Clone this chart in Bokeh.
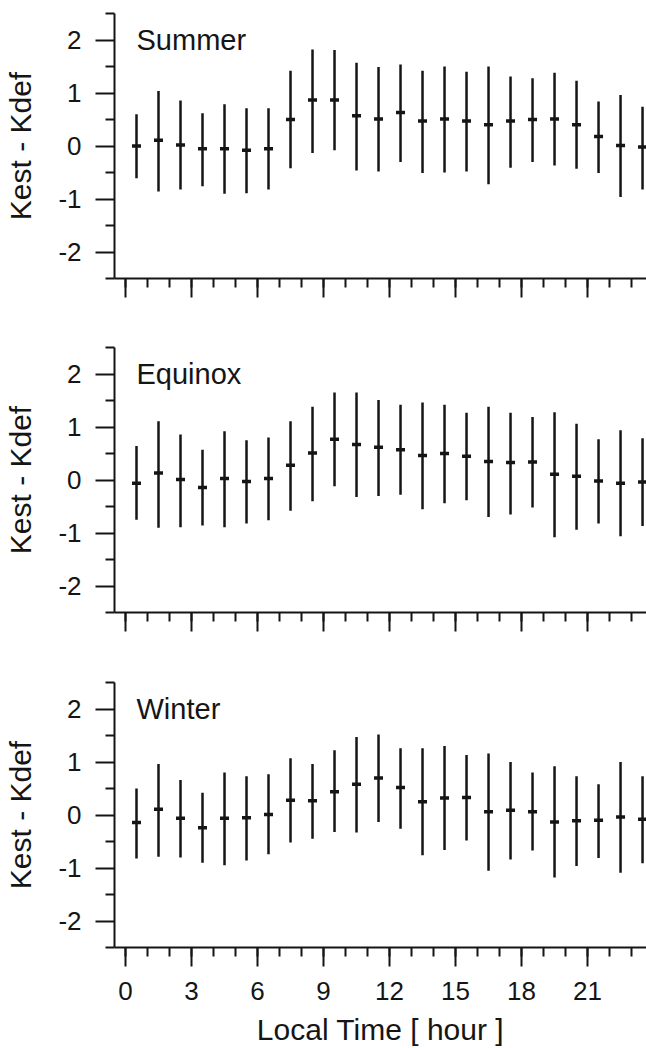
from bokeh.plotting import figure
from bokeh.layouts import column
from bokeh.models import Range1d, FixedTicker, Label, ColumnDataSource
from bokeh.embed import file_html
from bokeh.resources import INLINE

hours = [h + 0.5 for h in range(24)]
x_tick_labels = ["0", "3", "6", "9", "12", "15", "18", "21"]
y_tick_labels = ["-2", "-1", "0", "1", "2"]
seasons = ["Summer", "Equinox", "Winter"]

summer_mean = [0.00, 0.11, 0.02, -0.05, -0.05, -0.08, -0.05, 0.50, 0.87, 0.87, 0.57, 0.51,
               0.63, 0.47, 0.51, 0.47, 0.40, 0.47, 0.50, 0.51, 0.40, 0.18, 0.01, -0.02]
summer_upper = [0.60, 1.04, 0.86, 0.62, 0.79, 0.71, 0.71, 1.42, 1.82, 1.81, 1.57, 1.49,
                1.54, 1.42, 1.50, 1.40, 1.50, 1.31, 1.28, 1.38, 1.23, 0.84, 0.96, 0.74]
summer_lower = [-0.61, -0.86, -0.82, -0.76, -0.90, -0.89, -0.82, -0.42, -0.13, -0.08, -0.46, -0.48,
                -0.30, -0.51, -0.50, -0.48, -0.72, -0.41, -0.30, -0.37, -0.43, -0.51, -0.96, -0.82]

equinox_mean = [-0.06, 0.13, 0.01, -0.14, 0.03, -0.03, 0.03, 0.28, 0.51, 0.77, 0.67, 0.62,
                0.57, 0.46, 0.50, 0.45, 0.35, 0.33, 0.34, 0.11, 0.07, -0.02, -0.06, -0.04]
equinox_upper = [0.64, 1.11, 0.86, 0.57, 0.92, 0.75, 0.80, 1.11, 1.38, 1.65, 1.65, 1.51,
                 1.42, 1.46, 1.42, 1.27, 1.38, 1.27, 1.19, 1.28, 1.06, 0.77, 0.94, 0.79]
equinox_lower = [-0.75, -0.90, -0.89, -0.86, -0.89, -0.82, -0.76, -0.58, -0.40, -0.12, -0.32, -0.30,
                 -0.28, -0.55, -0.44, -0.38, -0.70, -0.65, -0.52, -1.08, -0.94, -0.82, -1.06, -0.87]

winter_mean = [-0.14, 0.11, -0.06, -0.24, -0.06, -0.05, 0.01, 0.28, 0.27, 0.44, 0.58, 0.70,
               0.52, 0.25, 0.32, 0.33, 0.06, 0.09, 0.06, -0.13, -0.11, -0.10, -0.04, -0.08]
winter_upper = [0.50, 0.96, 0.66, 0.42, 0.80, 0.73, 0.77, 1.07, 0.96, 1.22, 1.47, 1.52,
                1.26, 1.26, 1.30, 1.13, 1.16, 1.00, 0.80, 0.92, 0.73, 0.58, 1.00, 0.73]
winter_lower = [-0.82, -0.79, -0.80, -0.90, -0.95, -0.86, -0.74, -0.52, -0.45, -0.32, -0.33, -0.13,
                -0.26, -0.76, -0.66, -0.48, -1.05, -0.84, -0.67, -1.18, -0.96, -0.81, -1.09, -0.91]

series = [
    (summer_mean, summer_upper, summer_lower),
    (equinox_mean, equinox_upper, equinox_lower),
    (winter_mean, winter_upper, winter_lower),
]

FONT = "Liberation Sans"
INK = "#151515"


def make_panel(name, mean, upper, lower, top_border, bottom_border, last):
    p = figure(frame_width=532, frame_height=265,
               x_range=Range1d(-0.5, 23.68), y_range=Range1d(-2.5, 2.5),
               output_backend="svg", toolbar_location=None,
               min_border_left=114, min_border_right=0,
               min_border_top=top_border, min_border_bottom=bottom_border,
               background_fill_color="white", border_fill_color="white")
    p.outline_line_color = None
    p.grid.visible = False

    src = ColumnDataSource(dict(x=hours, m=mean, hi=upper, lo=lower))
    p.segment(x0="x", y0="lo", x1="x", y1="hi", source=src,
              line_color=INK, line_width=2.5)
    p.scatter(x="x", y="m", source=src, marker="dash", size=9,
              line_color=INK, line_width=3.5)

    xt = [int(v) for v in x_tick_labels]
    yt = [int(v) for v in y_tick_labels]
    p.xaxis.ticker = FixedTicker(ticks=xt, minor_ticks=list(range(0, 24)))
    p.yaxis.ticker = FixedTicker(ticks=yt, minor_ticks=[-2.5, -1.5, -0.5, 0.5, 1.5, 2.5])

    for ax in (p.xaxis[0], p.yaxis[0]):
        ax.axis_line_color = INK
        ax.axis_line_width = 2
        ax.major_tick_line_color = INK
        ax.major_tick_line_width = 2
        ax.minor_tick_line_color = INK
        ax.minor_tick_line_width = 2
        ax.major_tick_in = 0
        ax.minor_tick_in = 0
        ax.major_tick_out = 19
        ax.minor_tick_out = 9
        ax.major_label_text_font = FONT
        ax.major_label_text_font_size = "26px"
        ax.major_label_text_color = INK
        ax.axis_label_text_font = FONT
        ax.axis_label_text_font_size = "30px"
        ax.axis_label_text_font_style = "normal"
        ax.axis_label_text_color = INK

    p.yaxis.axis_label = "Kest - Kdef"
    p.yaxis.major_label_standoff = 14
    p.yaxis.axis_label_standoff = 18
    p.yaxis.major_label_overrides = {int(v): v for v in y_tick_labels}

    if last:
        p.xaxis.axis_label = "Local Time [ hour ]"
        p.xaxis.major_label_standoff = 15
        p.xaxis.axis_label_standoff = 10
        p.xaxis.major_label_overrides = {int(v): v for v in x_tick_labels}
    else:
        p.xaxis.major_label_overrides = {int(v): "" for v in x_tick_labels}
        p.xaxis.major_label_standoff = 0

    p.add_layout(Label(x=0.5, y=2.0, text=name, text_font=FONT,
                       text_font_size="29px", text_color=INK,
                       text_baseline="alphabetic", text_align="left"))
    return p


p1 = make_panel(seasons[0], *series[0], top_border=13, bottom_border=34, last=False)
p2 = make_panel(seasons[1], *series[1], top_border=35, bottom_border=34, last=False)
p3 = make_panel(seasons[2], *series[2], top_border=36, bottom_border=10, last=True)

layout = column(p1, p2, p3, spacing=0)
open("out.html", "w").write(file_html(layout, INLINE))
